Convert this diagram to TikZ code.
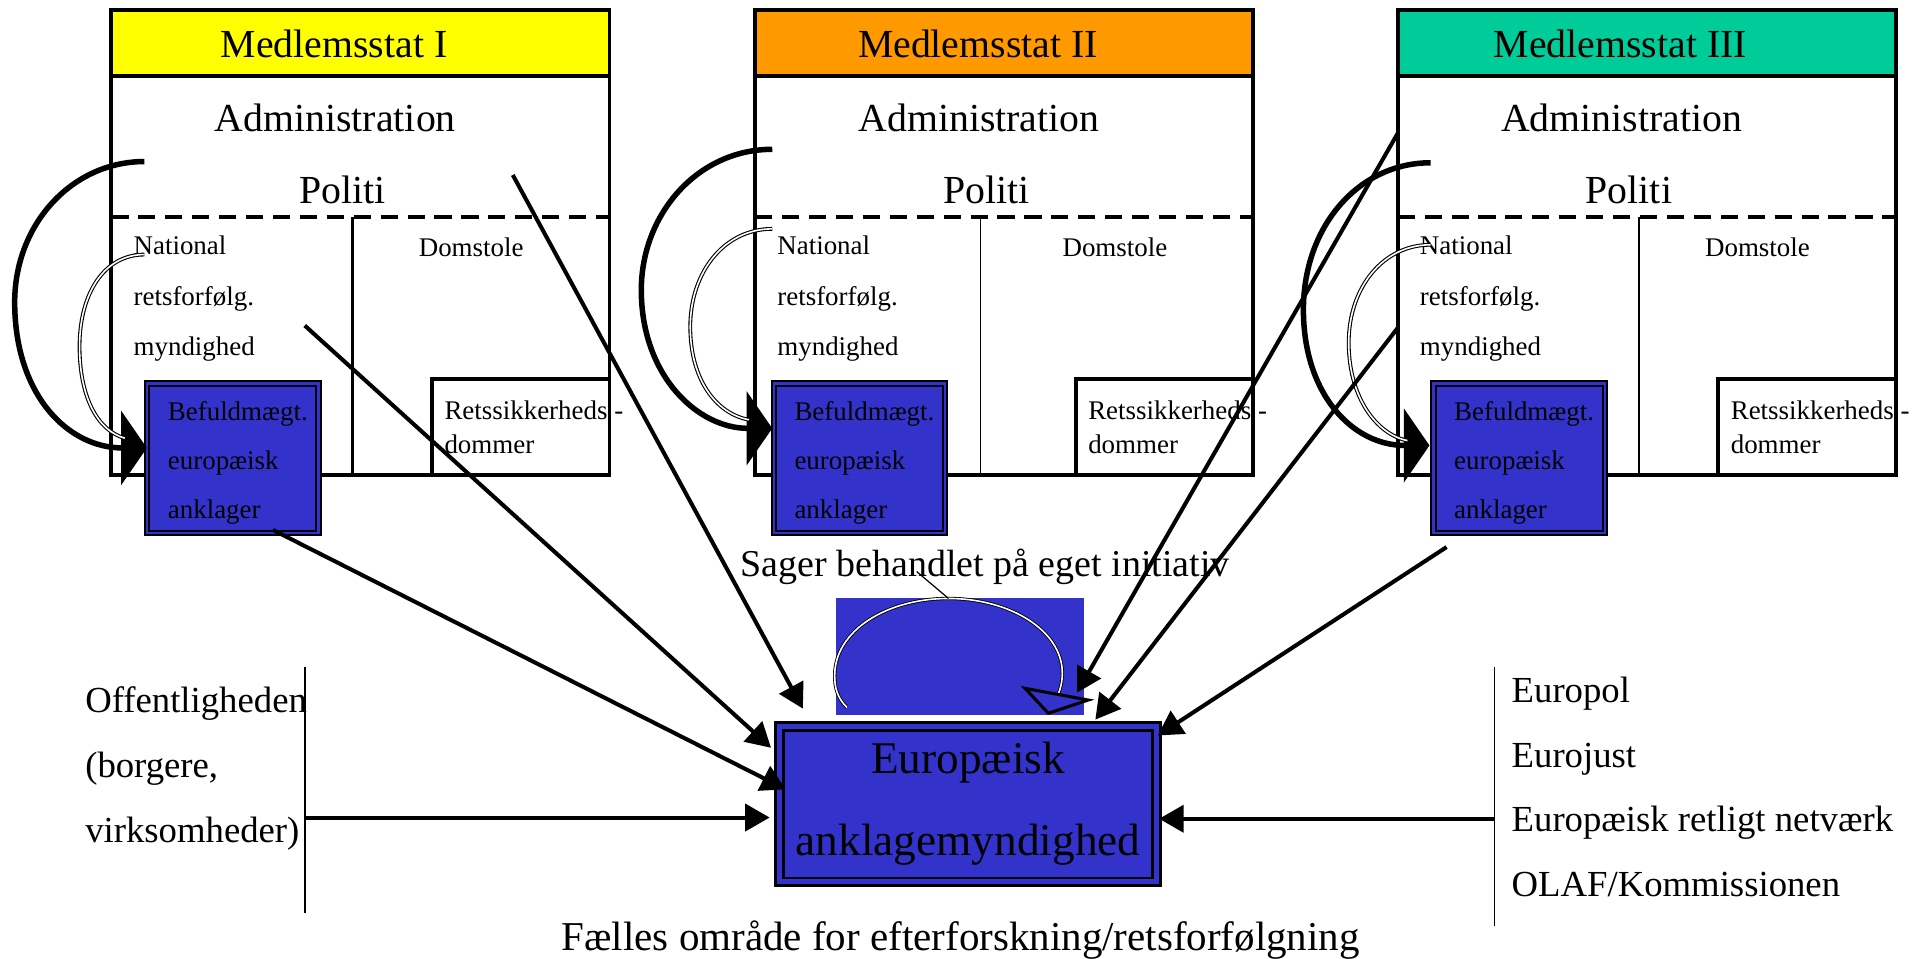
\documentclass[tikz,border=0pt]{standalone}
\usepackage{fontspec}
\setmainfont{Liberation Serif}
\usetikzlibrary{arrows.meta,calc}
\definecolor{eblue}{RGB}{51,51,204}
\definecolor{hyellow}{RGB}{255,255,0}
\definecolor{horange}{RGB}{255,153,0}
\definecolor{hteal}{RGB}{0,204,153}
\newcommand\fsz[2]{\fontsize{#1}{#2}\selectfont}
\newcommand\memberstate[7]{%
  \fill[#3] (#2,8) rectangle ++(407,54);
  \draw[frame] (#2,8) rectangle ++(407,380);
  \draw[frame] (#2,62) -- ++(407,0);
  \draw[frame,dash pattern=on 14pt off 8pt] (#2,177) -- ++(407,0);
  \draw[line width=#6] (#2+#5,177) -- (#2+#5,388);
  \draw[frame] (#2+262,310) rectangle (#2+407,388);
  \node[bigtxt] (title#1) at (#2+182,36) {Medlemsstat #4};
  \node[bigtxt] (adm#1) at (#2+183,96) {Administration};
  \node[bigtxt] (pol#1) at (#2+189,155) {Politi};
  \node[smalltxt,font=\fsz{22}{41},anchor=west] (nat#1) at (#2+18,244) {National\\retsforfølg.\\myndighed};
  \node[smalltxt] (dom#1) at (#2+294,202) {Domstole};
  \node[smalltxt,font=\fsz{22}{28},anchor=west] (ret#1) at (#2+272,349) {Retssikkerheds -\\dommer};
  \node[befbox,anchor=north west] (bef#1) at (#2+#7+2.5,312.5) {};
  \node[smalltxt,font=\fsz{22}{40},anchor=west] (beft#1) at (#2+#7+20,378) {Befuldmægt.\\europæisk\\anklager};
}
\begin{document}
\begin{tikzpicture}[x=1pt,y=-1pt,
  frame/.style={draw=black,line width=3.1pt},
  bigtxt/.style={font=\fsz{32.5}{39},inner sep=0pt},
  smalltxt/.style={font=\fsz{22}{28},align=left,inner sep=0pt},
  befbox/.style={draw=black,double=eblue,double distance=2pt,line width=1.6pt,fill=eblue,minimum width=140pt,minimum height=122pt,inner sep=0pt},
  mainbox/.style={draw=black,double=eblue,double distance=4pt,line width=2.2pt,fill=eblue,minimum width=308pt,minimum height=127pt,inner sep=0pt,align=center,font=\fsz{37}{67}},
  arr/.style={line width=3.3pt,-{Triangle[length=20pt,width=22pt]}},
  tkarc/.style={line width=4.5pt,-{Triangle[length=21pt,width=60pt]}},
  thinarc/.style={draw=black,double=white,line width=0.9pt,double distance=1.3pt},
  sidetxt/.style={font=\fsz{30}{53},align=left,inner sep=0pt,anchor=west}]
\fill[white] (0,0) rectangle (1568,783);
\useasboundingbox (0,0) rectangle (1568,783);

\memberstate{I}{91}{hyellow}{I}{197}{3.1pt}{26}
\memberstate{II}{617}{horange}{II}{184}{1.3pt}{12}
\memberstate{III}{1142}{hteal}{III}{197}{1.3pt}{26}

% curved arrows, state I
\coordinate (tkI) at (118,132);
\coordinate (thI) at (118,208);
\coordinate (hdI) at (120,366);
\coordinate (heI) at (102,358);
\draw[tkarc] (tkI) .. controls (59,132) and (12,183) .. (12,247) .. controls (12,322) and (55,366) .. (hdI);
\draw[thinarc] (thI) .. controls (85,208) and (65,240) .. (65,283) .. controls (65,325) and (80,352) .. (heI);
% state II
\coordinate (tkII) at (631,122);
\coordinate (thII) at (631,187);
\coordinate (hdII) at (631,350);
\coordinate (heII) at (612,343);
\draw[tkarc] (tkII) .. controls (570,122) and (524,175) .. (524,237) .. controls (524,307) and (570,350) .. (hdII);
\draw[thinarc] (thII) .. controls (592,187) and (564,222) .. (564,267) .. controls (564,310) and (585,338) .. (heII);
% state III
\coordinate (tkIII) at (1169,133);
\coordinate (thIII) at (1169,200);
\coordinate (hdIII) at (1168,364);
\coordinate (heIII) at (1150,360);
\draw[tkarc] (tkIII) .. controls (1110,133) and (1065,185) .. (1065,253) .. controls (1065,322) and (1105,364) .. (hdIII);
\draw[thinarc] (thIII) .. controls (1130,200) and (1102,235) .. (1102,280) .. controls (1102,325) and (1125,355) .. (heIII);

% own-initiative loop
\node[fill=eblue,minimum width=203pt,minimum height=95pt,inner sep=0pt] (loopbox) at (784.5,536.5) {};
\coordinate (lpS) at (692,578);
\coordinate (lpT) at (775,489);
\coordinate (lpE) at (864,569);
\draw[thinarc,line width=0.7pt] (lpS) .. controls (684,570) and (682,562) .. (682,552) .. controls (682,515) and (725,489) .. (lpT) .. controls (825,489) and (868,515) .. (868,550) .. controls (868,558) and (866,564) .. (lpE);
\draw[line width=2.5pt,fill=eblue,line join=miter] (837.5,562.4) -- (856.6,582.8) -- (889.2,572) -- cycle;
\node[font=\fsz{31}{37},inner sep=0pt] (sager) at (805,463) {Sager behandlet på eget initiativ};
\coordinate (ldS) at (749,467);
\draw[line width=1pt] (ldS) -- (lpT);

% central body
\node[mainbox] (main) at (791,657) {Europæisk\\anklagemyndighed};

% side groups
\node[sidetxt] (pub) at (69.5,628) {Offentligheden\\(borgere,\\virksomheder)};
\coordinate (pubT) at (249,545);
\coordinate (pubB) at (249,746);
\draw[line width=1.3pt] (pubT) -- (pubB);
\node[sidetxt] (eu) at (1235,643) {Europol\\Eurojust\\Europæisk retligt netværk\\OLAF/Kommissionen};
\coordinate (euT) at (1221,545);
\coordinate (euB) at (1221,757);
\draw[line width=1.3pt] (euT) -- (euB);

\node[font=\fsz{33.5}{40},inner sep=0pt] (faelles) at (785,768) {Fælles område for efterforskning/retsforfølgning};

% straight arrows
\coordinate (aI) at (419,143);
\coordinate (bI) at (249,266);
\coordinate (cI) at (223,433);
\coordinate (eIII) at (1142,109);
\coordinate (fIII) at (1142,268);
\coordinate (gIII) at (1182,447);
\coordinate (pubM) at (249,668);
\coordinate (euM) at (1221,669);
\coordinate (tA) at (656,579);
\coordinate (tB) at (630,611);
\coordinate (tC) at (642,645);
\coordinate (tE) at (880,566);
\coordinate (tF) at (895,588);
\coordinate (tG) at (946,601);
\draw[arr] (aI) -- (tA);
\draw[arr] (bI) -- (tB);
\draw[arr] (cI) -- (tC);
\draw[arr] (eIII) -- (tE);
\draw[arr] (fIII) -- (tF);
\draw[arr] (gIII) -- (tG);
\draw[arr] (pubM) -- ([xshift=-7pt]pubM -| main.west);
\draw[arr] (euM) -- ([xshift=1pt]euM -| main.east);
\end{tikzpicture}
\end{document}
